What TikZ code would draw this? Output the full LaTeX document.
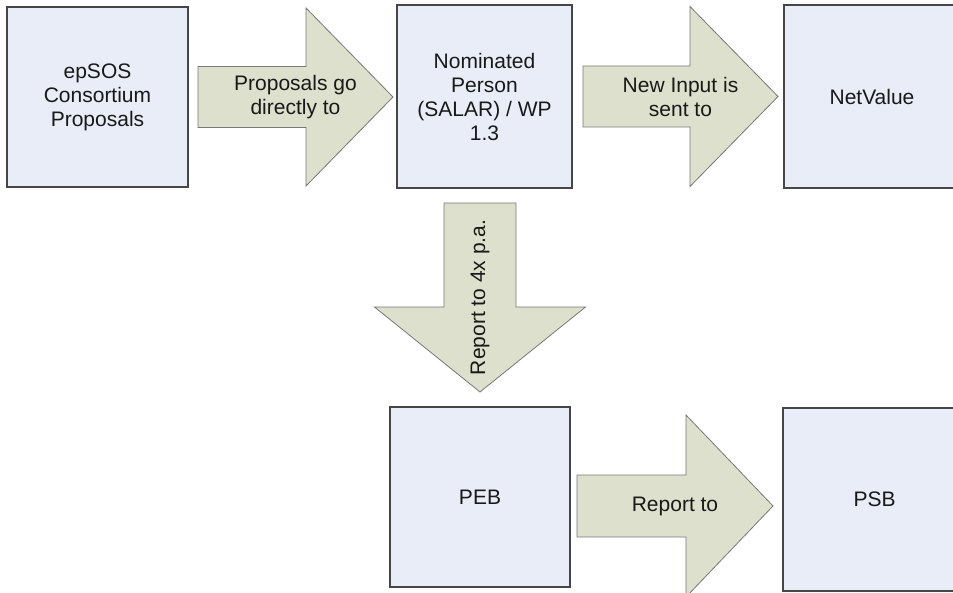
\documentclass[tikz,border=0pt]{standalone}
\usepackage{fontspec}
\setmainfont{Liberation Sans}
\usetikzlibrary{calc}
\definecolor{boxfill}{RGB}{232,237,247}
\definecolor{arrowfill}{RGB}{221,224,204}
\definecolor{boxline}{RGB}{70,70,70}
\definecolor{arrowline}{RGB}{120,120,120}
\begin{document}
\begin{tikzpicture}[x=1pt, y=-1pt,
  box/.style={draw=boxline, line width=1.1pt, fill=boxfill, inner sep=0pt, outer sep=0pt, align=center,
    font=\fontsize{21}{24}\selectfont, text=black!90},
  blockarrow/.style={draw=arrowline, line width=0.8pt, fill=arrowfill, line join=miter},
  lbl/.style={align=center, inner sep=0pt, font=\fontsize{21}{24}\selectfont, text=black!90}]
\useasboundingbox (0,0) rectangle (953,593);
\clip (0,0) rectangle (953,593);
% boxes
\node[box, minimum width=181pt, minimum height=180pt] (epsos) at (97.5,97) {epSOS\\Consortium\\Proposals};
\node[box, minimum width=175pt, minimum height=183pt] (nomperson) at (484.5,96.5) {Nominated\\Person\\(SALAR) / WP\\1.3};
\node[box, minimum width=176pt, minimum height=183pt] (netvalue) at (872,96.5) {NetValue};
\node[box, minimum width=180pt, minimum height=180pt] (peb) at (480,497) {PEB};
\node[box, minimum width=183pt, minimum height=183pt] (psb) at (874.5,499.5) {PSB};
% block arrows
\coordinate (tail1) at (198,97);
\coordinate (tip1) at (393,97);
\draw[blockarrow] ($(tail1)+(0,-30.5)$) -- ($(tip1)+(-87,-30.5)$) -- ($(tip1)+(-87,-89)$) -- (tip1)
  -- ($(tip1)+(-87,89)$) -- ($(tip1)+(-87,30.5)$) -- ($(tail1)+(0,30.5)$) -- cycle;
\coordinate (tail2) at (583,96.5);
\coordinate (tip2) at (778,96.5);
\draw[blockarrow] ($(tail2)+(0,-30.5)$) -- ($(tip2)+(-88,-30.5)$) -- ($(tip2)+(-88,-90)$) -- (tip2)
  -- ($(tip2)+(-88,90)$) -- ($(tip2)+(-88,30.5)$) -- ($(tail2)+(0,30.5)$) -- cycle;
\coordinate (tail3) at (480,203);
\coordinate (tip3) at (480,392);
\draw[blockarrow] ($(tail3)+(-36,0)$) -- ($(tip3)+(-36,-85)$) -- ($(tip3)+(-105.5,-85)$) -- (tip3)
  -- ($(tip3)+(105.5,-85)$) -- ($(tip3)+(36,-85)$) -- ($(tail3)+(36,0)$) -- cycle;
\coordinate (tail4) at (577,506);
\coordinate (tip4) at (773,506);
\draw[blockarrow] ($(tail4)+(0,-31)$) -- ($(tip4)+(-87,-31)$) -- ($(tip4)+(-87,-91)$) -- (tip4)
  -- ($(tip4)+(-87,91)$) -- ($(tip4)+(-87,31)$) -- ($(tail4)+(0,31)$) -- cycle;
% labels
\node[lbl] (lbl1) at ($(tail1)!.5!(tip1)$) {Proposals go\\directly to};
\node[lbl] (lbl2) at ($(tail2)!.5!(tip2)$) {New Input is\\sent to};
\node[lbl, rotate=90] (lbl3) at ($(tail3)!.5!(tip3)$) {Report to 4x p.a.};
\node[lbl] (lbl4) at ($(tail4)!.5!(tip4)$) {Report to};
\end{tikzpicture}
\end{document}
